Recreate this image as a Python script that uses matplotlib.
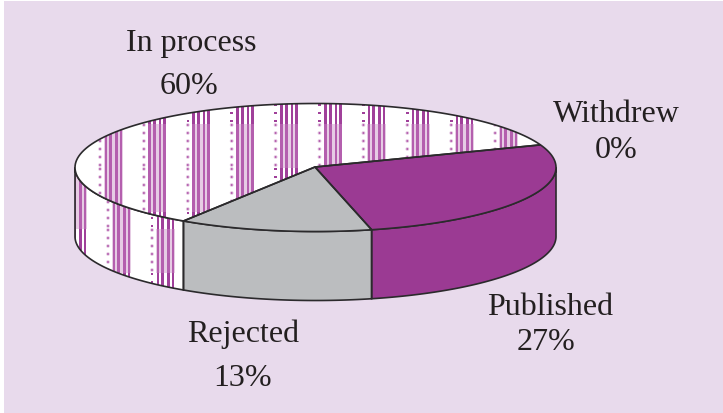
import numpy as np
import matplotlib
matplotlib.use('Agg')
import matplotlib.pyplot as plt
from matplotlib.patches import Polygon, Rectangle, Circle

# chart data
labels = ['In process', 'Withdrew', 'Published', 'Rejected']
values = [60, 0, 27, 13]
colors = ['white', 'white', '#9B3A93', '#BBBDBF']
label_x = [191, 616, 550, 243]
label_y = [44, 115, 308, 334]
value_x = [189, 616, 546, 243]
value_y = [87, 151, 343, 379]

BG = '#E8DAEC'
EDGE = '#2B2A2C'
STRONG = '#A0409A'
MEDIUM = '#B45FAE'
PALE = '#E6CCE4'

cx, cy, rx, ry = 315.5, 168.5, 240.5, 64
depth = 69
start_angle = -123.3


def arc(a0, a1, dy=0, n=120):
    t = np.radians(np.linspace(a0, a1, n))
    return np.column_stack([cx + rx * np.cos(t), cy - ry * np.sin(t) + dy])


def stripes(ax, clip, x0, y0, strong, z):
    # one 44x44 tile of the pattern fill
    bars = [(4.5, 2.5), (9, 3), (15, 2.5), (19.5, 2.5)]
    items = []
    if not strong:
        items.append(Rectangle((x0 + 4, y0), 18.5, 44, fc=PALE, ec='none'))
        items.append(Rectangle((x0 + 4, y0 - 0.3), 18.5, 0.6, fc=MEDIUM, ec='none'))
    for off, w in bars:
        items.append(Rectangle((x0 + off, y0), w, 44,
                               fc=STRONG if strong else MEDIUM, ec='none'))
    for dy in np.arange(1, 44, 8):
        if strong:
            items.append(Rectangle((x0 - 1.3, y0 + dy - 1.2), 2.6, 2.4, fc=STRONG, ec='none'))
        else:
            items.append(Circle((x0, y0 + dy), 1.9, fc=PALE, ec='none'))
            items.append(Circle((x0, y0 + dy), 1.0, fc=MEDIUM, ec='none'))
    for it in items:
        it.set_zorder(z)
        ax.add_patch(it)
        it.set_clip_path(clip)


fig = plt.figure(figsize=(7.23, 4.14), dpi=100)
ax = fig.add_axes([0, 0, 1, 1])
ax.set_xlim(0, 723)
ax.set_ylim(414, 0)
ax.axis('off')
ax.add_patch(Rectangle((4, 2), 719, 412, fc=BG, ec='none'))

# slice angles, clockwise from the start angle
angles = start_angle - np.cumsum([0] + [v * 3.6 for v in values])

for i in range(len(values)):
    if values[i] == 0:
        continue
    a0, a1 = angles[i], angles[i + 1]
    if a0 < -180:
        a0, a1 = a0 + 360, a1 + 360

    # side wall, only the part on the front of the pie
    hi, lo = min(a0, 0), max(a1, -180)
    outline = np.vstack([arc(hi, lo), arc(lo, hi, depth)])
    side = Polygon(outline, closed=True, fc=colors[i], ec='none', zorder=2)
    ax.add_patch(side)
    if i == 0:
        for x0, strong_ys in [(64, [230]), (108, [274]), (152, [142, 186, 274])]:
            for y0 in [142, 186, 230, 274]:
                stripes(ax, side, x0, y0, y0 in strong_ys, 2.5)
    ax.add_patch(Polygon(outline, closed=True, fc='none', ec=EDGE, lw=1.2, zorder=3))

    # top face
    pts = np.vstack([[cx - 0.5, cy - 0.5], arc(a0, a1)])
    face = Polygon(pts, closed=True, fc=colors[i], ec='none', zorder=4)
    ax.add_patch(face)
    if i == 0:
        for x0 in 100 + 43.9 * np.arange(10):
            for y0 in [81, 125, 169, 213]:
                strong = y0 == 81 or y0 == 213 or (y0 == 169 and x0 > 270)
                stripes(ax, face, x0, y0, strong, 5)
    ax.add_patch(Polygon(pts, closed=True, fc='none', ec=EDGE, lw=1.2, zorder=6))

for i, name in enumerate(labels):
    ax.text(label_x[i], label_y[i], name, family='Liberation Serif', fontsize=23,
            color='#231F20', ha='center', va='center')
    ax.text(value_x[i], value_y[i], f'{values[i]}%', family='Liberation Serif', fontsize=23,
            color='#231F20', ha='center', va='center')

fig.savefig('out.png', dpi=100)
